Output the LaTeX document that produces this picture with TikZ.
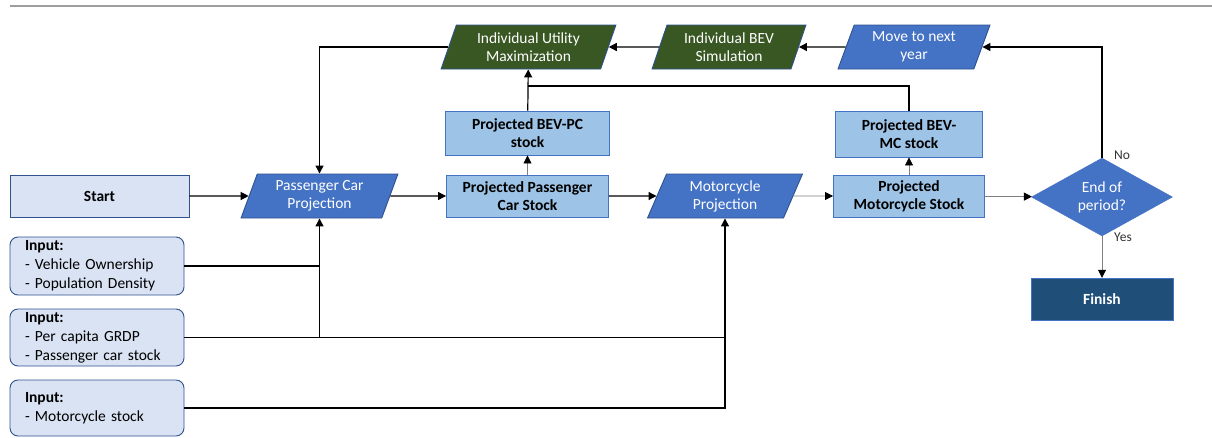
\documentclass[tikz,border=0pt]{standalone}
\usepackage{fontspec}
\setmainfont{Carlito}
\usetikzlibrary{shapes.geometric,arrows.meta}
\definecolor{lightfill}{HTML}{DAE3F3}
\definecolor{midblue}{HTML}{4472C4}
\definecolor{darkedge}{HTML}{2F528F}
\definecolor{skyfill}{HTML}{9DC3E6}
\definecolor{skyedge}{HTML}{4472C4}
\definecolor{greenfill}{HTML}{385723}
\definecolor{navyfill}{HTML}{1F4E79}
\definecolor{greyline}{HTML}{808080}
\newcommand{\mainsize}{\fontsize{15.5}{18}\selectfont}
\tikzset{
  every node/.style={font=\mainsize, inner sep=2pt},
  startbox/.style={draw=darkedge, line width=0.9pt, fill=lightfill, minimum width=179pt, minimum height=42pt, font=\mainsize\bfseries},
  para/.style={trapezium, trapezium stretches=true, trapezium left angle=71, trapezium right angle=109, draw=darkedge, line width=0.9pt, fill=midblue, text=white, align=center, minimum height=44pt},
  greenpara/.style={para, fill=greenfill},
  stockbox/.style={draw=skyedge, line width=0.9pt, fill=skyfill, align=center, minimum height=42pt, font=\mainsize\bfseries},
  decide/.style={diamond, aspect=1.8, draw=midblue, fill=midblue, text=white, align=center, minimum width=141pt, minimum height=78pt, inner sep=0pt},
  finishbox/.style={draw=skyedge, fill=navyfill, text=white, minimum width=142pt, minimum height=42pt, font=\mainsize\bfseries},
  inbox/.style={draw=darkedge, line width=0.9pt, fill=lightfill, rounded corners=8pt, text width=144pt, align=left, inner xsep=15pt, minimum width=174pt, font=\fontsize{15.5}{19}\selectfont},
  arr/.style={-{Triangle[length=8pt,width=8pt]}, line width=1.2pt, black},
  thinarr/.style={-{Triangle[length=8pt,width=8pt,color=black]}, line width=0.8pt, greyline},
  link/.style={line width=1.2pt, black},
  small/.style={font=\fontsize{13.5}{15}\selectfont, text=black!80}
}
\begin{document}
\begin{tikzpicture}[x=1pt,y=-1pt]
\useasboundingbox (0,0) rectangle (1212,437);
\draw[line width=2.2pt, color=black!38] (10,6) -- (1212,6);

\node[startbox] (start) at (99.5,196) {Start};
\node[para, minimum width=157pt] (pcp) at (319.5,196) {Passenger Car\\Projection};
\node[stockbox, minimum width=162pt] (ppcs) at (527.5,196) {Projected Passenger\\Car Stock};
\node[para, minimum width=156pt] (mp) at (725,196) {Motorcycle\\Projection};
\node[stockbox, minimum width=151pt] (pms) at (909,196) {Projected\\Motorcycle Stock};
\node[decide] (endp) at (1102,197) {End of\\period?};
\node[finishbox] (finish) at (1102,299) {Finish};

\node[stockbox, minimum width=164pt, minimum height=44pt] (bevpc) at (527.5,133) {Projected BEV-PC\\stock};
\node[stockbox, minimum width=147pt, minimum height=46pt] (bevmc) at (909,134) {Projected BEV-\\MC stock};

\node[greenpara, minimum width=175pt] (ium) at (528.5,47) {Individual Utility\\Maximization};
\node[greenpara, minimum width=154pt] (ibs) at (729,47) {Individual BEV\\Simulation};
\node[para, minimum width=152pt] (mny) at (914,47) {Move to next\\year};

\node[inbox, minimum height=58pt] (in1) at (97,266) {\textbf{Input:}\\- Vehicle Ownership\\- Population Density};
\node[inbox, minimum height=57pt] (in2) at (97,337.5) {\textbf{Input:}\\- Per capita GRDP\\- Passenger car stock};
\node[inbox, minimum height=56pt] (in3) at (97,408) {\textbf{Input:}\\- Motorcycle stock};

% main flow
\draw[arr] (start) -- (pcp);
\draw[arr] (pcp) -- (ppcs);
\draw[arr] (ppcs) -- (mp);
\draw[thinarr] (mp) -- (pms);
\draw[thinarr] (pms) -- (endp);
\draw[thinarr] (endp.south) -- (finish.north);
\node[small, anchor=west] (yes) at (1112,237) {Yes};
\draw[arr] (endp.north) |- (mny);
\node[small, anchor=west] (no) at (1112,155) {No};
\draw[arr] (mny) -- (ibs);
\draw[arr] (ibs) -- (ium);
\draw[arr] (ium) -| (pcp.north);

% BEV branches
\draw[thinarr] (ppcs) -- (bevpc);
\draw[arr] (bevpc) -- (ium);
\draw[thinarr] (pms) -- (bevmc);
\coordinate (j1) at (527.5,86);
\draw[link] (bevmc.north) |- (j1);

% inputs
\draw[link] (in1.east) -- (in1.east -| pcp.south);
\draw[link] (in2.east) -- (in2.east -| mp.south);
\draw[arr] (in2.east -| pcp.south) -- (pcp.south);
\draw[arr] (in3.east) -| (mp.south);
\end{tikzpicture}
\end{document}
